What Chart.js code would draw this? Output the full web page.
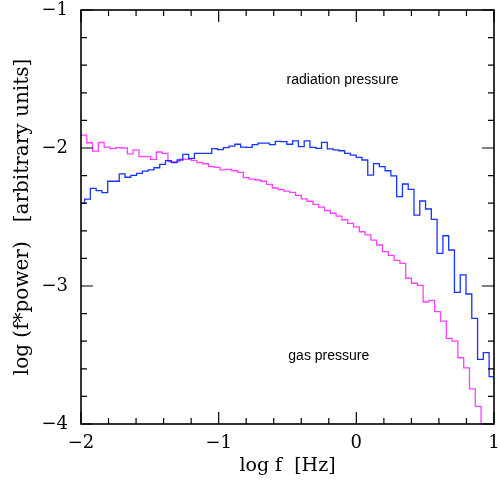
<!DOCTYPE html>
<html>
<head>
<meta charset="utf-8">
<script src="https://cdn.jsdelivr.net/npm/chart.js@4.4.0/dist/chart.umd.min.js"></script>
<style>
  html, body { margin: 0; padding: 0; background: #fff; }
</style>
</head>
<body>
<canvas id="power" width="500" height="481"></canvas>
<script>
// log f axis and log power axis ranges
const X_MIN = -2, X_MAX = 1;
const Y_MIN = -4, Y_MAX = -1;

// histogram bins in log f (first bin starts at the axis, the rest are even)
const radBinStart = -1.974, radBinWidth = 0.04198;
const gasBinStart = -1.958, gasBinWidth = 0.04212;

// radiation pressure, one value per bin (blue)
const radiation = [
  -2.401, -2.370, -2.292, -2.309, -2.324, -2.241, -2.241, -2.188, -2.212, -2.198,
  -2.184, -2.167, -2.159, -2.143, -2.118, -2.092, -2.106, -2.087, -2.046, -2.075,
  -2.039, -2.039, -2.039, -2.005, -2.012, -1.998, -1.986, -1.973, -1.993, -1.995,
  -1.976, -1.964, -1.964, -1.976, -1.952, -1.954, -1.973, -1.949, -1.990, -1.949,
  -1.995, -2.002, -1.959, -2.007, -2.014, -2.020, -2.039, -2.051, -2.068, -2.087,
  -2.196, -2.113, -2.135, -2.165, -2.202, -2.353, -2.261, -2.300, -2.486, -2.384,
  -2.442, -2.517, -2.763, -2.636, -2.739, -3.046, -2.920, -3.058, -3.234, -3.531,
  -3.483, -3.657
];

// gas pressure, one value per bin (magenta)
const gas = [
  -1.906, -1.962, -2.022, -1.960, -1.993, -2.004, -1.997, -2.000, -2.043, -2.014,
  -2.063, -2.063, -2.082, -2.029, -2.039, -2.099, -2.099, -2.080, -2.082, -2.089,
  -2.106, -2.114, -2.135, -2.140, -2.159, -2.155, -2.165, -2.176, -2.214, -2.225,
  -2.232, -2.241, -2.264, -2.290, -2.301, -2.312, -2.321, -2.344, -2.368, -2.386,
  -2.409, -2.429, -2.453, -2.473, -2.494, -2.520, -2.546, -2.572, -2.607, -2.630,
  -2.667, -2.703, -2.751, -2.778, -2.815, -2.836, -2.944, -2.980, -2.996, -3.116,
  -3.104, -3.186, -3.254, -3.379, -3.399, -3.520, -3.593, -3.746, -3.873, -4.200
];

const xTicks = [-2, -1, 0, 1];
const yTicks = [-4, -3, -2, -1];

// turn a list of bin values into step points (left edge of each bin + closing point)
function toSteps(values, start, width) {
  const pts = values.map((v, i) => ({ x: i === 0 ? X_MIN : start + (i - 1) * width, y: v }));
  const last = values.length - 1;
  pts.push({ x: start + last * width, y: values[last] });
  return pts;
}

const minus = v => (v < 0 ? '\u2212' + Math.abs(v) : String(v));

// frame with inward ticks on all four sides, plus the two curve labels
const frameTicks = {
  id: 'frameTicks',
  afterDatasetsDraw(chart) {
    const { ctx, chartArea: a, scales: { x, y } } = chart;
    ctx.save();
    ctx.strokeStyle = '#000';
    ctx.lineWidth = 1.2;
    ctx.beginPath();
    for (let i = 0; i <= 15; i++) {
      const px = x.getPixelForValue(X_MIN + i * 0.2);
      const len = i % 5 === 0 ? 12 : 6;
      ctx.moveTo(px, a.bottom); ctx.lineTo(px, a.bottom - len);
      ctx.moveTo(px, a.top); ctx.lineTo(px, a.top + len);
    }
    for (let i = 0; i <= 15; i++) {
      const py = y.getPixelForValue(Y_MIN + i * 0.2);
      const len = i % 5 === 0 ? 12 : 6;
      ctx.moveTo(a.left, py); ctx.lineTo(a.left + len, py);
      ctx.moveTo(a.right, py); ctx.lineTo(a.right - len, py);
    }
    ctx.stroke();
    ctx.lineWidth = 1.6;
    ctx.strokeRect(a.left, a.top, a.right - a.left, a.bottom - a.top);

    ctx.fillStyle = '#000';
    ctx.font = '14px "Liberation Sans", Arial, sans-serif';
    ctx.textAlign = 'center';
    ctx.textBaseline = 'middle';
    ctx.fillText('radiation pressure', x.getPixelForValue(-0.10), y.getPixelForValue(-1.507));
    ctx.fillText('gas pressure', x.getPixelForValue(-0.20), y.getPixelForValue(-3.507));
    ctx.restore();
  }
};

const serif = { family: '"DejaVu Serif", "Liberation Serif", serif' };

new Chart(document.getElementById('power').getContext('2d'), {
  type: 'line',
  data: {
    datasets: [
      {
        label: 'radiation pressure',
        data: toSteps(radiation, radBinStart, radBinWidth),
        borderColor: '#1535ff',
        borderWidth: 1.3,
        stepped: true,
        pointRadius: 0,
        fill: false,
      },
      {
        label: 'gas pressure',
        data: toSteps(gas, gasBinStart, gasBinWidth),
        borderColor: '#ff40ff',
        borderWidth: 1.3,
        stepped: true,
        pointRadius: 0,
        fill: false,
      }
    ]
  },
  options: {
    responsive: false,
    animation: false,
    layout: { padding: { top: 10, right: 6, left: 0, bottom: 0 } },
    plugins: {
      legend: { display: false },
      tooltip: { enabled: false },
    },
    scales: {
      x: {
        type: 'linear',
        min: X_MIN,
        max: X_MAX,
        afterBuildTicks: s => { s.ticks = xTicks.map(v => ({ value: v })); },
        afterFit: s => { s.height = 57; s.paddingLeft = 0; s.paddingRight = 0; },
        grid: { display: false, drawTicks: false },
        border: { display: false },
        ticks: {
          color: '#000',
          padding: 10,
          maxRotation: 0,
          autoSkip: false,
          font: { ...serif, size: 18, lineHeight: 1 },
          callback: v => minus(v),
        },
        title: {
          display: true,
          text: 'log f  [Hz]',
          color: '#000',
          font: { ...serif, size: 19 },
          padding: { top: 0, bottom: 4 },
        },
      },
      y: {
        type: 'linear',
        min: Y_MIN,
        max: Y_MAX,
        afterBuildTicks: s => { s.ticks = yTicks.map(v => ({ value: v })); },
        afterFit: s => { s.width = 81; s.paddingTop = 0; s.paddingBottom = 0; },
        grid: { display: false, drawTicks: false },
        border: { display: false },
        ticks: {
          color: '#000',
          padding: 13,
          autoSkip: false,
          font: { ...serif, size: 18, lineHeight: 1 },
          callback: v => minus(v),
        },
        title: {
          display: true,
          text: 'log (f*power)   [arbitrary units]',
          color: '#000',
          font: { ...serif, size: 20 },
          padding: { top: 11, bottom: 0 },
        },
      }
    }
  },
  plugins: [frameTicks]
});
</script>
</body>
</html>
